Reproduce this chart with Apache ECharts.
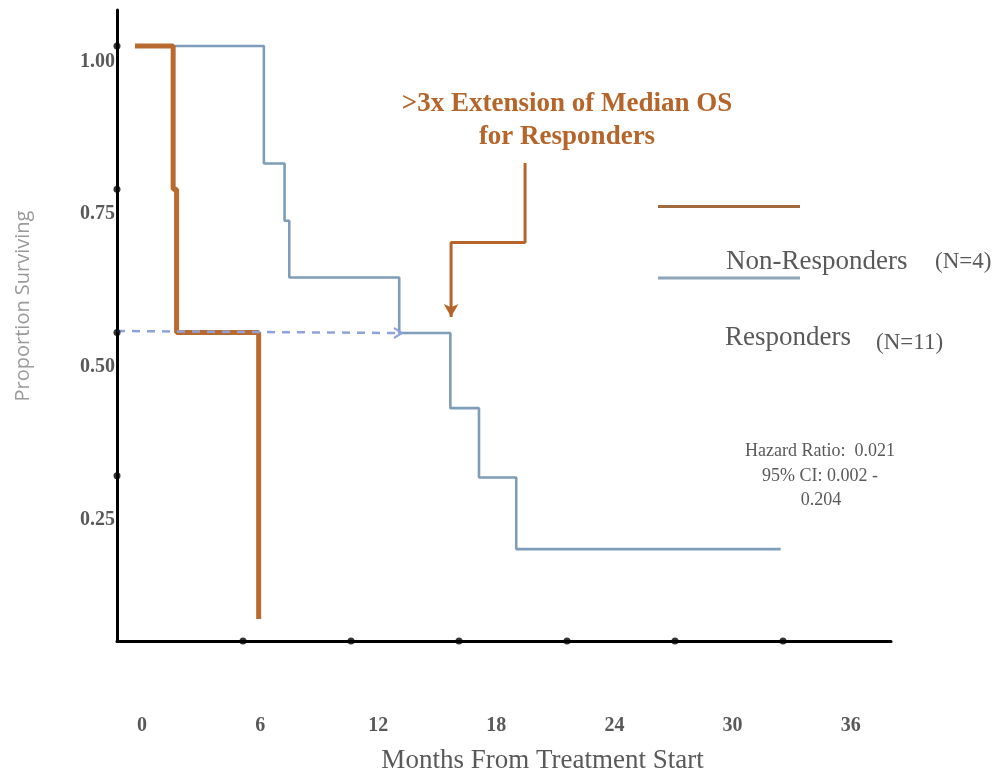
<!DOCTYPE html>
<html>
<head>
<meta charset="utf-8">
<script src="https://cdn.jsdelivr.net/npm/echarts@6/dist/echarts.min.js"></script>
<style>
html,body{margin:0;padding:0;background:#fff;}
#chart{width:998px;height:774px;}
</style>
</head>
<body>
<div id="chart"></div>
<script>
// ---- data ----
const nonRespMonths = [0, 2.12, 2.31, 6.87];
const nonRespSurv   = [1.0, 0.75, 0.5, 0.0];
const respMonths = [0, 7.16, 8.31, 8.57, 14.68, 17.52, 19.11, 21.18, 35.87];
const respSurv   = [1.0, 0.795, 0.695, 0.596, 0.499, 0.368, 0.247, 0.122, 0.122];
const xTickLabels = [0, 6, 12, 18, 24, 30, 36];
const yTickLabels = [0.25, 0.50, 0.75, 1.00];
const xDotMonths = [6, 12, 18, 24, 30, 36];
const yDotSurv = [0.25, 0.5, 0.75, 1.0];
// median annotation paths (data units)
const medianDashX = [-1, 14.61];
const medianDashY = [0.5026, 0.4991];
const calloutX = [21.67, 21.67, 17.56, 17.56];
const calloutY = [0.796, 0.657, 0.657, 0.527];

const X_MIN = -1, X_MAX = 42;
const Y_MIN = -0.0384, Y_MAX = 1.0628;

const SERIF = '"Liberation Serif", "Times New Roman", serif';
const ORANGE = '#B96A2E';
const BLUE = '#7D9DB9';
const GREY = '#595959';

const zip = (a, b) => a.map((v, i) => [v, b[i]]);

const chart = echarts.init(document.getElementById('chart'), null, {renderer: 'canvas'});

const calloutData = zip(calloutX, calloutY).map((p, i, arr) =>
  i === arr.length - 1 ? {value: p, symbol: 'arrow', symbolSize: [11, 13], symbolRotate: 180} : {value: p});
const dashData = zip(medianDashX, medianDashY).map((p, i, arr) =>
  i === arr.length - 1 ? {value: p, symbol: 'path://M0,0 L10,6 L0,12', symbolSize: [8, 10],
    itemStyle: {color: 'none', borderColor: '#8EA2DE', borderWidth: 2}} : {value: p});

chart.setOption({
  animation: false,
  backgroundColor: '#fff',
  grid: {left: 117, right: 107, top: 10, bottom: 133, outerBoundsMode: 'none', containLabel: false},
  xAxis: [{
    type: 'value', min: X_MIN, max: X_MAX, position: 'bottom',
    axisLine: {show: true, onZero: false, lineStyle: {color: '#000', width: 3}},
    axisTick: {show: false}, axisLabel: {show: false}, splitLine: {show: false},
    name: 'Months From Treatment Start', nameLocation: 'middle', nameGap: 106,
    nameTextStyle: {fontFamily: SERIF, fontSize: 27, color: GREY, padding: [0, 0, 0, 77]}
  }, {
    type: 'value', min: -1.275, max: 38.05, position: 'bottom', offset: 0,
    axisLine: {show: false}, axisTick: {show: false}, splitLine: {show: false},
    axisLabel: {show: true, customValues: xTickLabels, margin: 75, fontFamily: SERIF,
      fontWeight: 'bold', fontSize: 20, color: GREY, formatter: v => String(v)}
  }],
  yAxis: [{
    type: 'value', min: Y_MIN, max: Y_MAX, position: 'left',
    axisLine: {show: true, onZero: false, lineStyle: {color: '#000', width: 3}},
    axisTick: {show: false}, axisLabel: {show: false}, splitLine: {show: false},
    name: 'Proportion Surviving', nameLocation: 'middle', nameRotate: 90, nameGap: 84,
    nameTextStyle: {fontFamily: '"Open Sans", sans-serif', fontSize: 20, color: '#9a9a9a', padding: [0, 0, 0, 39]}
  }, {
    type: 'value', min: 0.05125, max: 1.0844, position: 'left', offset: 0,
    axisLine: {show: false}, axisTick: {show: false}, splitLine: {show: false},
    axisLabel: {show: true, customValues: yTickLabels, margin: 2, fontFamily: SERIF,
      fontWeight: 'bold', fontSize: 20, color: GREY, formatter: v => v.toFixed(2)}
  }],
  series: [{
    name: 'Responders', type: 'line', step: 'end', symbol: 'none',
    data: zip(respMonths, respSurv),
    lineStyle: {color: BLUE, width: 2.6}, z: 3
  }, {
    name: 'Non-Responders', type: 'line', step: 'end', symbol: 'none',
    data: zip(nonRespMonths, nonRespSurv),
    lineStyle: {color: ORANGE, width: 5, cap: 'butt'}, z: 4
  }, {
    name: 'median', type: 'line', symbol: 'none', data: dashData,
    lineStyle: {color: '#8EA2DE', width: 2.5, type: [8, 7]}, z: 5
  }, {
    name: 'callout', type: 'line', symbol: 'none', data: calloutData,
    lineStyle: {color: '#B5652A', width: 3}, itemStyle: {color: '#B5652A'}, z: 5
  }, {
    name: 'xdots', type: 'scatter', symbolSize: 7, clip: false,
    data: xDotMonths.map(m => [m, Y_MIN]), itemStyle: {color: '#000'}, z: 6
  }, {
    name: 'ydots', type: 'scatter', symbolSize: 7, clip: false,
    data: yDotSurv.map(s => [X_MIN, s]), itemStyle: {color: '#000'}, z: 6
  }],
  graphic: [
    {type: 'text', x: 567, y: 104, style: {text: '>3x Extension of Median OS', align: 'center', verticalAlign: 'middle',
      font: 'bold 27px ' + SERIF, fill: '#B5652A'}},
    {type: 'text', x: 567, y: 137, style: {text: 'for Responders', align: 'center', verticalAlign: 'middle',
      font: 'bold 27px ' + SERIF, fill: '#B5652A'}},
    {type: 'line', shape: {x1: 658, y1: 206.5, x2: 800, y2: 206.5}, style: {stroke: '#A2693C', lineWidth: 3}},
    {type: 'line', shape: {x1: 658, y1: 278, x2: 800, y2: 278}, style: {stroke: '#8EA5B8', lineWidth: 3}},
    {type: 'text', x: 726, y: 262, style: {text: 'Non-Responders', font: '27px ' + SERIF, fill: GREY, verticalAlign: 'middle'}},
    {type: 'text', x: 935, y: 262, style: {text: '(N=4)', font: '23px ' + SERIF, fill: GREY, verticalAlign: 'middle'}},
    {type: 'text', x: 725, y: 338, style: {text: 'Responders', font: '27px ' + SERIF, fill: GREY, verticalAlign: 'middle'}},
    {type: 'text', x: 876, y: 343, style: {text: '(N=11)', font: '23px ' + SERIF, fill: GREY, verticalAlign: 'middle'}},
    {type: 'text', x: 820, y: 451, style: {text: 'Hazard Ratio:  0.021', font: '18px ' + SERIF, fill: GREY, align: 'center', verticalAlign: 'middle'}},
    {type: 'text', x: 820, y: 476, style: {text: '95% CI: 0.002 -', font: '18px ' + SERIF, fill: GREY, align: 'center', verticalAlign: 'middle'}},
    {type: 'text', x: 821, y: 500, style: {text: '0.204', font: '18px ' + SERIF, fill: GREY, align: 'center', verticalAlign: 'middle'}}
  ]
});
</script>
</body>
</html>
